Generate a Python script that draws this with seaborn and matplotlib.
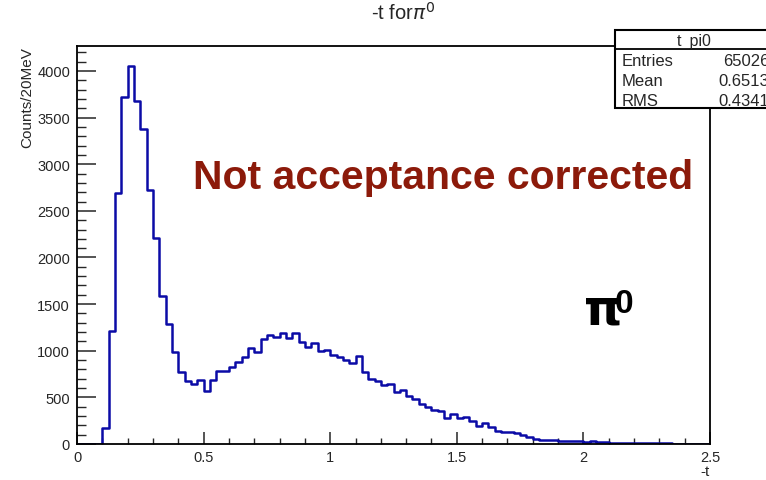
import numpy as np
import pandas as pd
import matplotlib
matplotlib.use("Agg")
import matplotlib.pyplot as plt
from matplotlib.patches import Rectangle
from matplotlib.lines import Line2D
from matplotlib.ticker import MultipleLocator
import seaborn as sns

# -t distribution for pi0 events: 100 bins of 0.025 from 0 to 2.5
bin_edges = [round(0.025 * i, 3) for i in range(101)]
counts = [
    0, 0, 0, 0, 168, 1215, 2692, 3718, 4050, 3675,
    3378, 2727, 2209, 1590, 1287, 990, 769, 679, 643, 686,
    565, 686, 780, 780, 822, 883, 930, 1029, 990, 1126,
    1169, 1144, 1187, 1137, 1187, 1090, 1037, 1080, 994, 1008,
    954, 930, 901, 869, 940, 775, 697, 679, 633, 643,
    554, 583, 518, 483, 429, 393, 368, 358, 279, 322,
    279, 286, 250, 197, 222, 179, 143, 125, 125, 115,
    97, 72, 54, 46, 46, 46, 36, 29, 29, 35,
    22, 30, 25, 18, 15, 14, 12, 10, 12, 10,
    8, 9, 7, 6, 5, 5, 4, 3, 3, 2,
]
hist_name = "t_pi0"
stat_labels = ["Entries", "Mean", "RMS"]
stat_values = ["65026", "0.6513", "0.4341"]
x_ticks = [0, 0.5, 1, 1.5, 2, 2.5]
x_tick_labels = ["0", "0.5", "1", "1.5", "2", "2.5"]
y_ticks = [0, 500, 1000, 1500, 2000, 2500, 3000, 3500, 4000]

edges = np.array(bin_edges)
centers = 0.5 * (edges[:-1] + edges[1:])
df = pd.DataFrame({"t": centers, "n": np.array(counts, dtype=float)})

sns.set_theme(style="white")
plt.rcParams["font.family"] = ["Liberation Sans", "DejaVu Sans"]

W, H = 766, 481
fig = plt.figure(figsize=(W / 100, H / 100), dpi=100)
L, R, T, B = 77, 710, 47, 445
ax = fig.add_axes([L / W, 1 - B / H, (R - L) / W, (B - T) / H])

sns.histplot(data=df, x="t", weights="n", bins=bin_edges, element="step",
             fill=False, color="#0b0ba6", linewidth=1.8, ax=ax)

ax.set_xlim(0, 2.5)
ax.set_ylim(0, 4268)
for s in ax.spines.values():
    s.set_color("black")
    s.set_linewidth(1.3)

ax.set_xticks(x_ticks)
ax.set_xticklabels(x_tick_labels)
ax.set_yticks(y_ticks)
ax.set_yticklabels([str(v) for v in y_ticks])
ax.xaxis.set_minor_locator(MultipleLocator(0.1))
ax.yaxis.set_minor_locator(MultipleLocator(100))
ax.tick_params(axis="x", which="major", direction="in", length=8.6, width=1.1,
               labelsize=10.5, pad=4, bottom=True, top=False)
ax.tick_params(axis="x", which="minor", direction="in", length=4.3, width=1.0,
               bottom=True, top=False)
ax.tick_params(axis="y", which="major", direction="in", length=13.7, width=1.1,
               labelsize=10.5, pad=5, left=True, right=False)
ax.tick_params(axis="y", which="minor", direction="in", length=6.8, width=1.0,
               left=True, right=False)
ax.set_xlabel("")
ax.set_ylabel("")

px = lambda x: x / W
py = lambda y: 1 - y / H

# axis titles
fig.text(px(710), py(476), "-t", ha="right", va="baseline", fontsize=11)
fig.text(px(27), py(47), "Counts/20MeV", rotation=90, ha="center", va="top",
         fontsize=11)

# histogram title
fig.text(px(403), py(20), r"-t for$\pi^{0}$", ha="center", va="baseline",
         fontsize=14.5)

# annotations
fig.text(px(193), py(189), "Not acceptance corrected", ha="left",
         va="baseline", fontsize=29.4, fontweight="bold", color="#8c1a0a")
fig.text(px(584), py(325), "π", ha="left", va="baseline", fontsize=35,
         fontweight="bold", color="black", family="DejaVu Sans")
fig.text(px(615), py(313), "0", ha="left", va="baseline", fontsize=24,
         fontweight="bold", color="black")

# statistics box
bx0, by0, by1 = 615, 31, 109
box = Rectangle((px(bx0), py(by1)), px(W + 20 - bx0), (by1 - by0) / H,
                transform=fig.transFigure, facecolor="white", edgecolor="black",
                linewidth=1.5, zorder=10, clip_on=False)
fig.add_artist(box)
fig.add_artist(Line2D([px(bx0), px(W + 5)], [py(50), py(50)],
                      transform=fig.transFigure, color="black", linewidth=1.3,
                      zorder=11))
fig.text(px(694), py(46), hist_name, ha="center", va="baseline", fontsize=11.5,
         zorder=12)
for i, (lab, val) in enumerate(zip(stat_labels, stat_values)):
    yb = 66 + i * 20
    fig.text(px(622), py(yb), lab, ha="left", va="baseline", fontsize=12,
             zorder=12)
    fig.text(px(769), py(yb), val, ha="right", va="baseline", fontsize=12,
             zorder=12)

fig.savefig("out.png", dpi=100, facecolor="white")
